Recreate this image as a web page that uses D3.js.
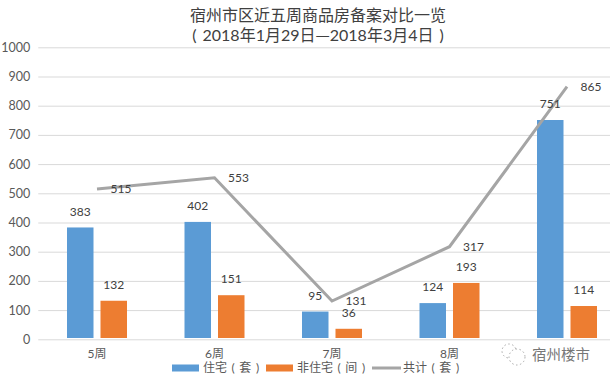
<!DOCTYPE html>
<html>
<head>
<meta charset="utf-8">
<script src="https://cdn.jsdelivr.net/npm/d3@7"></script>
<style>
  html, body { margin: 0; padding: 0; background: #fff; overflow: hidden; }
  text { font-family: Lato, "Noto Sans CJK SC", sans-serif; }
</style>
</head>
<body>
<script>
var weeks = ["5周", "6周", "7周", "8周", "9周"];
var housing = [383, 402, 95, 124, 751];
var nonHousing = [132, 151, 36, 193, 114];
var total = [515, 553, 131, 317, 865];
var yTicks = [0, 100, 200, 300, 400, 500, 600, 700, 800, 900, 1000];
var titleLine1 = "宿州市区近五周商品房备案对比一览";
var titleLine2 = ["( 2018年1月29日", "—", "2018年3月4日 )"];
var legendLabels = ["住宅 ( 套 )", "非住宅 ( 间 )", "共计 ( 套 )"];

var width = 610, height = 381;
var blue = "#5b9bd5", orange = "#ed7d31", gray = "#a5a5a5";

var svg = d3.select("body").append("svg")
  .attr("width", width)
  .attr("height", height);

var x = d3.scaleBand().domain(weeks).range([38.25, 625.75]);
var y = d3.scaleLinear().domain([0, 1000]).range([339.3, 47.3]);

// inner scale for the two bars of one week
var x1 = d3.scaleBand().domain(["housing", "nonHousing"]).range([-30, 30]).paddingInner(0.209);

// title
svg.append("text")
  .attr("x", 318)
  .attr("y", 21)
  .attr("text-anchor", "middle")
  .attr("font-size", 16)
  .attr("fill", "#404040")
  .text(titleLine1);

var title2 = svg.append("text")
  .attr("x", 318)
  .attr("y", 41)
  .attr("text-anchor", "middle")
  .attr("font-size", 16)
  .attr("word-spacing", 2)
  .attr("fill", "#404040");
titleLine2.forEach(function(part, i) {
  // the long dash comes from the CJK font
  title2.append("tspan")
    .style("font-family", i == 1 ? '"Noto Sans CJK SC"' : null)
    .text(part);
});

// y axis + grid
var yAxis = svg.append("g")
  .attr("transform", "translate(38.25,0)")
  .call(d3.axisLeft(y).tickValues(yTicks).tickFormat(d3.format("d")).tickSize(-width).tickPadding(8));
yAxis.select(".domain").remove();
yAxis.selectAll("line").attr("stroke", "#d9d9d9").attr("stroke-width", 1);
yAxis.selectAll("text").attr("font-size", 12.5).attr("fill", "#595959");

// x axis, the last label sits under the watermark in the picture
var xAxis = svg.append("g")
  .attr("transform", "translate(0,339.3)")
  .call(d3.axisBottom(x).tickSize(0).tickPadding(10));
xAxis.select(".domain").remove();
xAxis.selectAll("text")
  .attr("font-size", 12)
  .attr("fill", "#595959")
  .filter(function(d) { return d == "9周"; })
  .remove();

function center(i) { return x(weeks[i]) + x.bandwidth() / 2; }

function drawBars(values, key, color) {
  svg.append("g").selectAll("rect")
    .data(values)
    .enter()
    .append("rect")
    .attr("x", function(d, i) { return center(i) + x1(key); })
    .attr("y", function(d) { return y(d); })
    .attr("width", x1.bandwidth())
    .attr("height", function(d) { return y(0) - 1.3 - y(d); })
    .attr("fill", color);
}
drawBars(housing, "housing", blue);
drawBars(nonHousing, "nonHousing", orange);

// total line
var line = d3.line()
  .x(function(d, i) { return center(i); })
  .y(function(d) { return y(d); });

svg.append("path")
  .datum(total)
  .attr("d", line)
  .attr("fill", "none")
  .attr("stroke", gray)
  .attr("stroke-width", 3);

// data labels
function drawLabels(values, dx, dy) {
  svg.append("g").selectAll("text")
    .data(values)
    .enter()
    .append("text")
    .attr("x", function(d, i) { return center(i) + dx; })
    .attr("y", function(d) { return y(d) + dy; })
    .attr("dy", ".35em")
    .attr("text-anchor", "middle")
    .attr("font-size", 12)
    .attr("fill", "#404040")
    .text(function(d) { return d; });
}
drawLabels(housing, x1("housing") + x1.bandwidth() / 2, -16);
drawLabels(nonHousing, x1("nonHousing") + x1.bandwidth() / 2, -16);
drawLabels(total, 24, 0);

// legend
var legend = svg.append("g");
var legendX = [172, 266, 372];
var legendColors = [blue, orange, gray];
legendLabels.forEach(function(label, i) {
  if (i < 2) {
    legend.append("rect")
      .attr("x", legendX[i])
      .attr("y", 364.5)
      .attr("width", 27)
      .attr("height", 7)
      .attr("fill", legendColors[i]);
  } else {
    legend.append("line")
      .attr("x1", legendX[i])
      .attr("x2", legendX[i] + 29)
      .attr("y1", 368)
      .attr("y2", 368)
      .attr("stroke", legendColors[i])
      .attr("stroke-width", 3);
  }
  legend.append("text")
    .attr("x", legendX[i] + 31)
    .attr("y", 368)
    .attr("dy", ".35em")
    .attr("font-size", 12)
    .attr("word-spacing", 1.5)
    .attr("fill", "#595959")
    .text(label);
});

// watermark
var mark = svg.append("g");
mark.append("rect")
  .attr("x", 497).attr("y", 343).attr("width", 100).attr("height", 19)
  .attr("fill", "#fff");
[[509, 351, 7], [517, 357, 8]].forEach(function(c) {
  mark.append("circle")
    .attr("cx", c[0]).attr("cy", c[1]).attr("r", c[2])
    .attr("fill", "#fff")
    .attr("stroke", "#a8a8a8")
    .attr("stroke-dasharray", "1.5 2.5");
});
mark.append("text")
  .attr("x", 532)
  .attr("y", 355)
  .attr("dy", ".35em")
  .attr("font-size", 14.5)
  .attr("fill", "#777")
  .text("宿州楼市");
</script>
</body>
</html>
